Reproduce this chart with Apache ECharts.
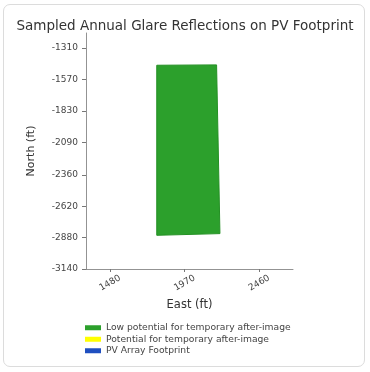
<!DOCTYPE html>
<html>
<head>
<meta charset="utf-8">
<script src="https://cdn.jsdelivr.net/npm/echarts@6/dist/echarts.min.js"></script>
<style>
  html, body { margin: 0; padding: 0; background: #ffffff; }
  #card { position: absolute; left: 3px; top: 4px; width: 362px; height: 363px; border: 1px solid #dcdcdc; border-radius: 7px; box-sizing: border-box; }
  #chart { position: absolute; left: 0; top: 0; width: 370px; height: 372px; }
</style>
</head>
<body>
<div id="card"></div>
<div id="chart"></div>
<script>
// Polygon of the glare footprint (East, North in ft)
const glareEast = [1787, 2180, 2202, 1787];
const glareNorth = [-1453, -1450, -2847, -2861];

// Axis ticks
const xTicks = [1480, 1970, 2460];
const yTicks = [-3140, -2880, -2620, -2360, -2090, -1830, -1570, -1310];
const xRange = [1322, 2682];
const yRange = [-3140, -1186];

const seriesNames = ['Low potential for temporary after-image', 'Potential for temporary after-image', 'PV Array Footprint'];
const seriesColors = ['#2ca02c', '#ffff00', '#1f4fc0'];

const FONT = 'DejaVu Sans';
const chart = echarts.init(document.getElementById('chart'), null, { renderer: 'canvas' });

const polyData = glareEast.map((e, i) => [e, glareNorth[i]]);
const plain = v => String(Math.round(v));

chart.setOption({
  animation: false,
  backgroundColor: 'transparent',
  title: {
    text: 'Sampled Annual Glare Reflections on PV Footprint',
    left: 'center',
    top: 14,
    textStyle: { fontFamily: FONT, fontSize: 13.5, fontWeight: 'normal', color: '#333' }
  },
  grid: { left: 86, top: 33, right: 77, bottom: 103 },
  xAxis: {
    type: 'value',
    min: xRange[0], max: xRange[1],
    splitLine: { show: false },
    axisLine: { show: true, onZero: false, lineStyle: { color: '#777', width: 0.8 } },
    axisTick: { show: true, customValues: xTicks, length: 3, lineStyle: { color: '#777' } },
    axisLabel: { customValues: xTicks, rotate: 30, align: 'center', verticalAlign: 'middle', margin: 14,
      formatter: plain, fontFamily: FONT, fontSize: 9, color: '#444' },
    name: 'East (ft)', nameLocation: 'middle', nameGap: 27,
    nameTextStyle: { fontFamily: FONT, fontSize: 11.5, color: '#333' }
  },
  yAxis: {
    type: 'value',
    min: yRange[0], max: yRange[1],
    splitLine: { show: false },
    axisLine: { show: true, onZero: false, lineStyle: { color: '#777', width: 0.8 } },
    axisTick: { show: true, customValues: yTicks, length: 4, lineStyle: { color: '#777' } },
    axisLabel: { customValues: yTicks, margin: 8, formatter: plain, fontFamily: FONT, fontSize: 9, color: '#444' },
    name: 'North (ft)', nameLocation: 'middle', nameGap: 49,
    nameTextStyle: { fontFamily: FONT, fontSize: 11, color: '#333' }
  },
  legend: {
    orient: 'vertical',
    left: 80, top: 318,
    itemWidth: 16, itemHeight: 5, itemGap: 2,
    icon: 'rect',
    textStyle: { fontFamily: FONT, fontSize: 9.2, color: '#444', lineHeight: 9.5 },
    data: seriesNames
  },
  series: [
    {
      name: seriesNames[0],
      type: 'custom',
      color: seriesColors[0],
      data: polyData,
      renderItem: function (params, api) {
        if (params.dataIndex !== 0) return null;
        const pts = polyData.map(p => api.coord(p));
        return {
          type: 'polygon',
          shape: { points: pts },
          style: { fill: seriesColors[0], stroke: '#249024', lineWidth: 1 }
        };
      }
    },
    { name: seriesNames[1], type: 'line', color: seriesColors[1], data: [] },
    { name: seriesNames[2], type: 'line', color: seriesColors[2], data: [] }
  ]
});
</script>
</body>
</html>
